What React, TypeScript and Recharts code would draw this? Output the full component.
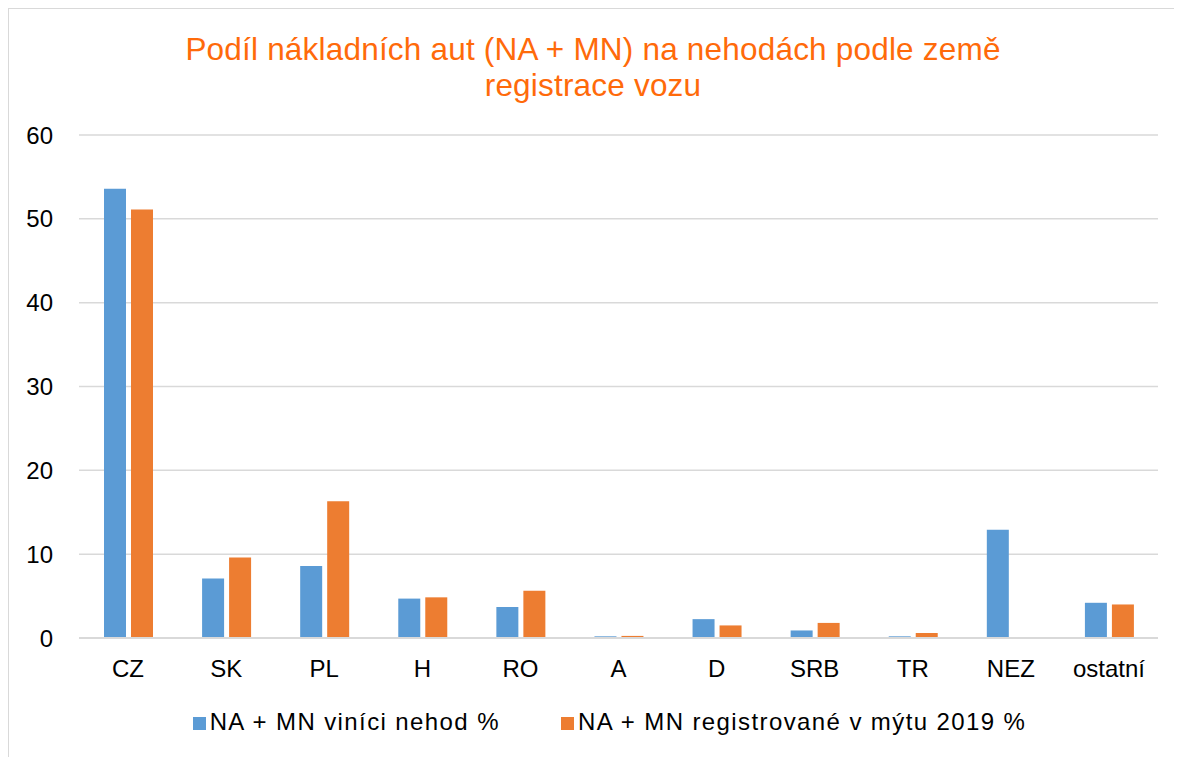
import React from 'react';
import { BarChart, Bar, XAxis, YAxis, CartesianGrid, Legend } from 'recharts';

// Země registrace vozu
const categories = ['CZ', 'SK', 'PL', 'H', 'RO', 'A', 'D', 'SRB', 'TR', 'NEZ', 'ostatní'];
// NA + MN viníci nehod %
const culprits = [53.6, 7.1, 8.6, 4.7, 3.7, 0.2, 2.25, 0.9, 0.2, 12.9, 4.2];
// NA + MN registrované v mýtu 2019 %
const registered = [51.1, 9.6, 16.3, 4.85, 5.65, 0.25, 1.5, 1.8, 0.6, 0, 4.0];
const yTicks = [0, 10, 20, 30, 40, 50, 60];

const data = categories.map((name, i) => ({
  name,
  culprits: culprits[i],
  registered: registered[i],
}));

const font = '"Liberation Sans", Arial, sans-serif';

export default function App() {
  return (
    <div
      style={{
        position: 'relative',
        width: 1168,
        height: 748,
        borderLeft: '1px solid #d9d9d9',
        borderTop: '1px solid #d9d9d9',
        borderRight: '1px solid #d9d9d9',
        fontFamily: font,
        background: '#fff',
      }}
    >
      <div
        style={{
          position: 'absolute',
          top: 22,
          left: 0,
          width: '100%',
          textAlign: 'center',
          color: '#FF6A0A',
          fontSize: 31.5,
          letterSpacing: 0.2,
          lineHeight: '36px',
        }}
      >
        Podíl nákladních aut (NA + MN) na nehodách podle země
        <br />
        registrace vozu
      </div>
      <BarChart
        width={1166}
        height={748}
        data={data}
        margin={{ top: 126, right: 17, left: 0, bottom: 9 }}
        barSize={22}
        barGap={5}
      >
        <CartesianGrid vertical={false} stroke="#d9d9d9" strokeWidth={1.5} />
        <XAxis
          dataKey="name"
          height={70}
          axisLine={{ stroke: '#d9d9d9', strokeWidth: 2 }}
          tickLine={false}
          tickMargin={16}
          tick={{ fill: '#000', fontSize: 24, fontFamily: font }}
          interval={0}
        />
        <YAxis
          width={70}
          domain={[0, 60]}
          ticks={yTicks}
          axisLine={false}
          tickLine={false}
          tickMargin={20}
          tick={{ fill: '#000', fontSize: 24, fontFamily: font }}
        />
        <Legend
          verticalAlign="bottom"
          height={40}
          iconType="square"
          iconSize={13}
          itemSorter="dataKey"
          wrapperStyle={{
            fontSize: 24,
            fontFamily: font,
            letterSpacing: 1.4,
            whiteSpace: 'nowrap',
            paddingLeft: 31,
          }}
          formatter={(value, _entry, index) => (
            <span style={{ color: '#000', marginRight: index === 0 ? 51 : 0 }}>{value}</span>
          )}
        />
        <Bar dataKey="culprits" name="NA + MN viníci nehod %" fill="#5B9BD5" isAnimationActive={false} />
        <Bar dataKey="registered" name="NA + MN registrované v mýtu 2019 %" fill="#ED7D31" isAnimationActive={false} />
      </BarChart>
    </div>
  );
}
